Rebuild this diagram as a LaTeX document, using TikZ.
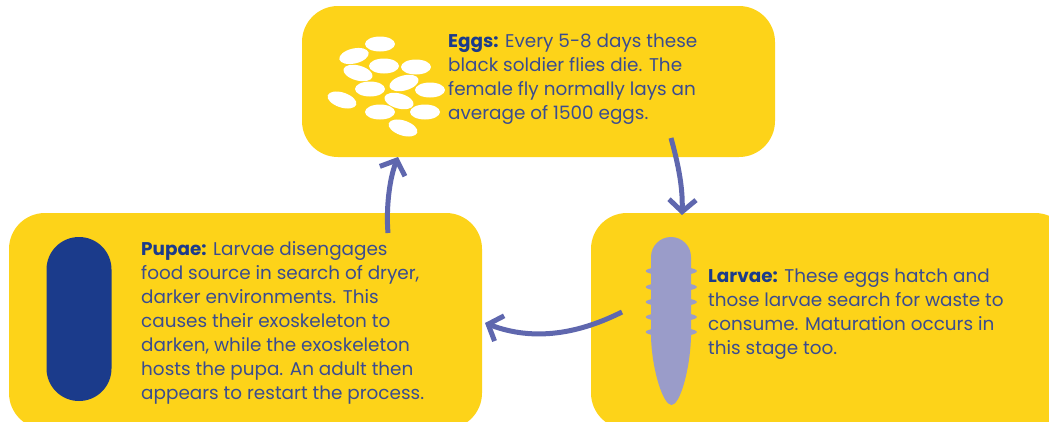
\documentclass[tikz,border=0pt]{standalone}
\usepackage{fontspec}
\setmainfont{Poppins}[BoldFont=* Bold]
\usetikzlibrary{arrows.meta,shapes.geometric}
\definecolor{cardyellow}{HTML}{FDD319}
\definecolor{bodytext}{HTML}{3A4C90}
\definecolor{headtext}{HTML}{1B3B8B}
\definecolor{arrowblue}{HTML}{5F67AE}
\definecolor{larvablue}{HTML}{9A9CC9}
\tikzset{
  card/.style={fill=cardyellow,rounded corners=36pt,inner sep=0pt,outer sep=0pt,minimum width=473pt},
  egg/.style={ellipse,fill=white,minimum width=30pt,minimum height=15pt,inner sep=0pt},
  bump/.style={ellipse,fill=larvablue,minimum width=51pt,minimum height=9pt,inner sep=0pt},
  cardtext/.style={anchor=north west,align=left,inner sep=0pt,text=bodytext,font=\fontsize{18.4}{24}\selectfont},
  cycle/.style={draw=arrowblue,line width=5pt,-{Straight Barb[length=12pt,width=27pt,line width=5pt]}},
}
\newcommand{\hd}[1]{\textbf{\textcolor{headtext}{#1}}}
\begin{document}
\begin{tikzpicture}[x=1pt,y=-1pt]
\useasboundingbox (0,0) rectangle (1049,421);
\clip (0,0) rectangle (1049,421);
\node[card,minimum height=151pt] (eggsbox) at (538.5,81.5) {};
\node[card,minimum height=216pt] (pupaebox) at (245.5,321) {};
\node[card,minimum height=216pt,minimum width=480pt] (larvaebox) at (831,321) {};

\node[egg,rotate=0] (e1) at (380,44) {};
\node[egg,rotate=13] (e2) at (354,56) {};
\node[egg,rotate=-15] (e3) at (358,73) {};
\node[egg] (e4) at (384,66) {};
\node[egg] (e5) at (416,67) {};
\node[egg,rotate=15] (e6) at (404,83) {};
\node[egg] (e7) at (370,89) {};
\node[egg] (e8) at (430,90) {};
\node[egg,rotate=-18] (e9) at (342,100) {};
\node[egg,rotate=-15] (e10) at (399,101) {};
\node[egg] (e11) at (380,112) {};
\node[egg] (e12) at (425,112) {};
\node[egg,rotate=-18] (e13) at (403,128) {};

\node[rounded corners=32.5pt,fill=headtext,minimum width=65pt,minimum height=164pt,inner sep=0pt] (pupa) at (79,319) {};

\node[bump] (b1) at (671.3,271) {};
\node[bump] (b2) at (671.3,287) {};
\node[bump] (b3) at (671.3,302) {};
\node[bump] (b4) at (671.3,317) {};
\node[bump] (b5) at (671.3,332) {};
\fill[larvablue] (651,257) arc[start angle=180,end angle=360,radius=20]
  -- (691,337)
  .. controls (690,370) and (680,405) .. (671.5,405)
  .. controls (663,405) and (652,370) .. (651,337)
  -- cycle;

\node[cardtext] (eggstext) at (448,33.5) {\hd{Eggs:} Every 5-8 days these\\black soldier flies die. The\\female fly normally lays an\\average of 1500 eggs.};
\node[cardtext] (larvaetext) at (708,268.5) {\hd{Larvae:} These eggs hatch and\\those larvae search for waste to\\consume. Maturation occurs in\\this stage too.};
\node[cardtext] (pupaetext) at (141,241.5) {\hd{Pupae:} Larvae disengages\\food source in search of dryer,\\darker environments. This\\causes their exoskeleton to\\darken, while the exoskeleton\\hosts the pupa. An adult then\\appears to restart the process.};

\coordinate (a1s) at (671,138);
\coordinate (a1e) at (682,215);
\coordinate (a2s) at (622,312);
\coordinate (a2e) at (485,323);
\coordinate (a3s) at (388,233);
\coordinate (a3e) at (398,157);
\draw[cycle] (a1s) .. controls (677,160) and (683,185) .. (a1e);
\draw[cycle] (a2s) .. controls (580,333) and (535,342) .. (a2e);
\draw[cycle] (a3s) .. controls (386,210) and (389,180) .. (a3e);
\end{tikzpicture}
\end{document}
